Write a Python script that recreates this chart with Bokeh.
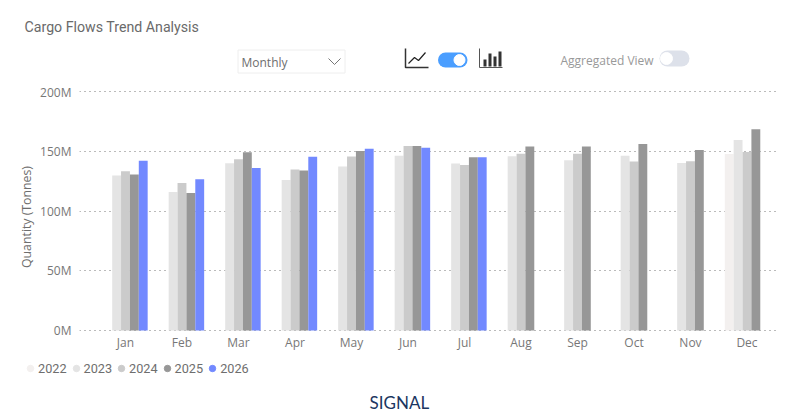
from bokeh.plotting import figure
from bokeh.layouts import column, row
from bokeh.models import Range1d, FixedTicker, Legend, LegendItem, ColumnDataSource
from bokeh.core.properties import value
from bokeh.embed import file_html
from bokeh.resources import INLINE

nan = float("nan")
months = ["Jan", "Feb", "Mar", "Apr", "May", "Jun", "Jul", "Aug", "Sep", "Oct", "Nov", "Dec"]
years = ["2022", "2023", "2024", "2025", "2026"]
colors = ["#F3F0EF", "#E4E4E4", "#CBCBCB", "#979797", "#7289FF"]
v2022 = [nan, nan, nan, nan, nan, nan, nan, nan, nan, nan, nan, 147.8]
v2023 = [129.7, 116, 140, 126, 137.2, 146.2, 139.7, 145.9, 142.5, 146.2, 140.2, 159.5]
v2024 = [133.3, 123.5, 143.4, 134.7, 145.6, 154.5, 138.6, 148, 148, 141.4, 141.7, 149.4]
v2025 = [130.5, 115, 149.2, 133.9, 150.3, 154.5, 145, 154, 154, 156, 151, 168.5]
v2026 = [142, 126.6, 136, 145.3, 152, 153, 145, nan, nan, nan, nan, nan]
series = [v2022, v2023, v2024, v2025, v2026]
y_ticks = [0, 50, 100, 150, 200]
y_labels = ["0M", "50M", "100M", "150M", "200M"]

W = 792
L, R, T, B = 79, 778, 83, 350
HEAD_H = 83
MAIN_BOTTOM = 352
FOOT_H = 65


def canvas(y0, y1):
    f = figure(width=W, height=y1 - y0, output_backend="svg", toolbar_location=None,
               x_range=Range1d(0, W), y_range=Range1d(y1, y0), min_border=0,
               outline_line_color=None, background_fill_color="white", border_fill_color="white")
    f.axis.visible = False
    f.grid.visible = False
    return f


def text(f, px, py, s, size, color, font="Open Sans"):
    f.text(x=[px], y=[py], text=[s], text_font=value(font), text_font_size=value(size),
           text_color=color, text_baseline="middle", text_align="left")


# ---- header (title and controls)
head = canvas(0, HEAD_H)
text(head, 24, 26, "Cargo Flows Trend Analysis", "14.2px", "#6A6A6A", font="Roboto")
head.quad(left=[237.5], right=[344.5], top=[49.5], bottom=[72.5], fill_color="white", line_color="#EEEEEE")
text(head, 241, 62, "Monthly", "12px", "#6E6E6E")
head.line(x=[328, 334, 340], y=[58, 64, 58], line_color="#777777", line_width=1)
# line icon
head.line(x=[405, 405, 428], y=[48, 67, 67], line_color="#333333", line_width=1.5)
head.line(x=[408, 414, 418, 425], y=[63, 57, 60, 52], line_color="#222222", line_width=1.2)
# blue toggle
head.segment(x0=[445], x1=[459.5], y0=[59.5], y1=[59.5], line_width=15, line_cap="round", line_color="#4A9EFF")
head.scatter(x=[459], y=[59.5], marker="circle", size=11, color="white")
# bar icon
head.line(x=[479, 479, 502], y=[48, 67, 67], line_color="#555555", line_width=1)
head.quad(left=[483, 488, 493, 498], right=[486, 491, 496, 501], top=[59, 53, 56, 51],
          bottom=[66, 66, 66, 66], fill_color="#333333", line_color=None)
# aggregated toggle
text(head, 560, 60, "Aggregated View", "12px", "#999999")
head.segment(x0=[667], x1=[681], y0=[58], y1=[58], line_width=16, line_cap="round", line_color="#DDE1EA")
head.scatter(x=[666], y=[58], marker="circle", size=12, color="white")

# ---- main chart (0M at pixel row 330, 200M at 91)
p = figure(width=W, height=MAIN_BOTTOM - HEAD_H, output_backend="svg", toolbar_location=None,
           x_range=Range1d(-0.814, 11.558), y_range=Range1d(-16.74, 206.7),
           min_border_left=L, min_border_right=W - R,
           min_border_top=T - HEAD_H, min_border_bottom=MAIN_BOTTOM - B,
           outline_line_color=None, background_fill_color="white", border_fill_color="white")
AX_FONT = "Open Sans"
p.xaxis.fixed_location = 0
p.xaxis.ticker = FixedTicker(ticks=list(range(12)))
p.xaxis.major_label_overrides = {i: m for i, m in enumerate(months)}
p.yaxis.ticker = FixedTicker(ticks=y_ticks)
p.yaxis.major_label_overrides = dict(zip(y_ticks, y_labels))
p.yaxis.axis_label = "Quantity (Tonnes)"
for ax in (p.xaxis[0], p.yaxis[0]):
    ax.axis_line_color = None
    ax.major_tick_line_color = None
    ax.minor_tick_line_color = None
    ax.major_tick_out = 0
    ax.major_label_text_font = AX_FONT
    ax.major_label_text_font_size = "12px"
    ax.major_label_text_color = "#777777"
p.xaxis.major_label_standoff = 4
p.yaxis.major_label_standoff = 8
p.yaxis.axis_label_text_font = AX_FONT
p.yaxis.axis_label_text_font_size = "12.3px"
p.yaxis.axis_label_text_font_style = "normal"
p.yaxis.axis_label_text_color = "#6E6E6E"
p.yaxis.axis_label_standoff = 2
p.xgrid.grid_line_color = None
p.ygrid.ticker = FixedTicker(ticks=y_ticks)
p.ygrid.grid_line_color = "#777777"
p.ygrid.grid_line_dash = "1 4"
p.ygrid.grid_line_width = 1

bar_w = 0.157
for k, (vals, c) in enumerate(zip(series, colors)):
    src = ColumnDataSource(dict(x=[i + (k - 2) * bar_w for i in range(12)], top=vals))
    p.vbar(x="x", top="top", bottom=0, width=bar_w, source=src, fill_color=c, line_color=None)

# ---- footer (legend and logo)
foot = canvas(MAIN_BOTTOM, MAIN_BOTTOM + FOOT_H)
swatches = [foot.scatter(x=[nan], y=[nan], marker="circle", size=8, color=c) for c in colors]
legend = Legend(items=[LegendItem(label=y, renderers=[r]) for y, r in zip(years, swatches)],
                orientation="horizontal", location=(22, 41), background_fill_alpha=0,
                border_line_color=None, glyph_width=16, glyph_height=16, label_standoff=0,
                spacing=1, padding=0, margin=0, label_text_font="Roboto",
                label_text_font_size="12.7px", label_text_color="#6E6E6E")
foot.add_layout(legend, "center")
text(foot, 369, 402, "SIGNAL", "17px", "#1B3560", font="Lato")

page = column(row(head), row(p), row(foot), spacing=0)
open("out.html", "w").write(file_html(page, INLINE))
